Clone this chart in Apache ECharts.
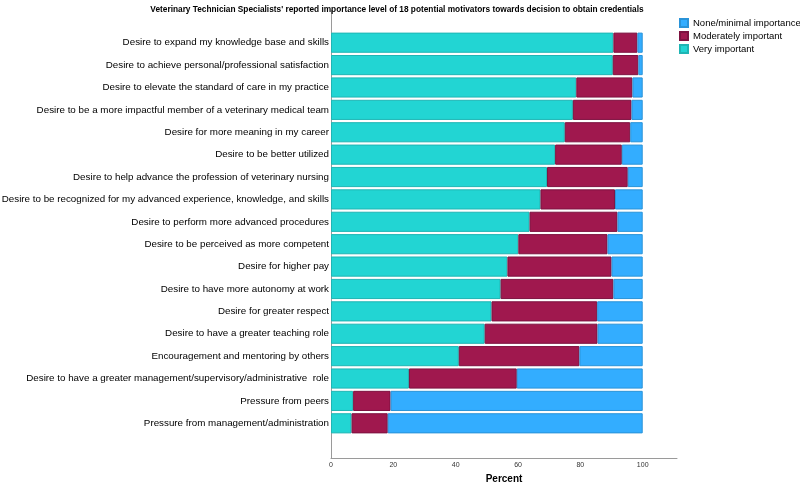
<!DOCTYPE html>
<html>
<head>
<meta charset="utf-8">
<title>VTS motivators</title>
<script src="https://cdn.jsdelivr.net/npm/echarts@6/dist/echarts.min.js"></script>
<style>
  html, body { margin: 0; padding: 0; background: #fff; }
  #main { width: 800px; height: 484px; }
</style>
</head>
<body>
<div id="main"></div>
<script>
// motivators, top to bottom
var categories = [
  "Desire to expand my knowledge base and skills",
  "Desire to achieve personal/professional satisfaction",
  "Desire to elevate the standard of care in my practice",
  "Desire to be a more impactful member of a veterinary medical team",
  "Desire for more meaning in my career",
  "Desire to be better utilized",
  "Desire to help advance the profession of veterinary nursing",
  "Desire to be recognized for my advanced experience, knowledge, and skills",
  "Desire to perform more advanced procedures",
  "Desire to be perceived as more competent",
  "Desire for higher pay",
  "Desire to have more autonomy at work",
  "Desire for greater respect",
  "Desire to have a greater teaching role",
  "Encouragement and mentoring by others",
  "Desire to have a greater management/supervisory/administrative  role",
  "Pressure from peers",
  "Pressure from management/administration"
];

// percent of respondents
var veryImportant = [90.6, 90.4, 78.7, 77.6, 75.0, 71.9, 69.3, 67.2, 63.7, 60.1, 56.6, 54.4, 51.5, 49.3, 41.0, 25.0, 7.1, 6.6];
var moderatelyImportant = [7.7, 8.2, 18.0, 18.8, 21.0, 21.4, 25.9, 23.9, 28.2, 28.6, 33.4, 36.2, 33.9, 36.2, 38.7, 34.6, 12.0, 11.6];
var noneMinimal = [1.7, 1.4, 3.3, 3.6, 4.0, 6.7, 4.8, 8.9, 8.1, 11.3, 10.0, 9.4, 14.6, 14.5, 20.3, 40.4, 80.9, 81.8];

var xTicks = [0, 20, 40, 60, 80, 100];

var chart = echarts.init(document.getElementById("main"));

var font = "Liberation Sans, Arial, sans-serif";
var axisGray = "#9a9a9a";

function barSeries(name, data, color, border) {
  return {
    name: name,
    type: "bar",
    stack: "total",
    xAxisIndex: 1,
    yAxisIndex: 1,
    barCategoryGap: "10%",
    itemStyle: { color: color, borderColor: border, borderWidth: 1 },
    data: data
  };
}

var option = {
  backgroundColor: "#fff",
  animation: false,
  title: {
    text: "Veterinary Technician Specialists' reported importance level of 18 potential motivators towards decision to obtain credentials",
    left: 392,
    top: 1,
    textAlign: "center",
    textStyle: { fontFamily: font, fontSize: 8.3, fontWeight: "bold", color: "#000" }
  },
  legend: {
    orient: "vertical",
    left: 679,
    top: 18,
    padding: 0,
    itemWidth: 8,
    itemHeight: 8,
    itemGap: 3,
    icon: "rect",
    data: ["None/minimal importance", "Moderately important", "Very important"],
    textStyle: { fontFamily: font, fontSize: 9.5, color: "#000" }
  },
  // grid 0 = frame with axis lines, grid 1 = the bars
  grid: [
    { left: 331, width: 346, top: 10, bottom: 26, outerBoundsMode: "none" },
    { left: 331, width: 346, top: 31.5, bottom: 49.5, outerBoundsMode: "none" }
  ],
  xAxis: [
    {
      gridIndex: 0,
      type: "value",
      min: 0,
      max: 111,
      interval: 20,
      name: "Percent",
      nameLocation: "middle",
      nameGap: 15,
      nameTextStyle: { fontFamily: font, fontSize: 10, fontWeight: "bold", color: "#000" },
      axisLine: { show: true, lineStyle: { color: axisGray, width: 1 } },
      axisTick: { show: false },
      splitLine: { show: false },
      axisLabel: {
        showMaxLabel: false,
        margin: 4,
        fontFamily: font,
        fontSize: 7,
        color: "#333",
        formatter: function (v) { return xTicks.indexOf(v) >= 0 ? String(v) : ""; }
      }
    },
    {
      gridIndex: 1,
      type: "value",
      min: 0,
      max: 111,
      show: false,
      splitLine: { show: false }
    }
  ],
  yAxis: [
    {
      gridIndex: 0,
      type: "value",
      axisLine: { show: true, lineStyle: { color: axisGray, width: 1 } },
      axisTick: { show: false },
      axisLabel: { show: false },
      splitLine: { show: false }
    },
    {
      gridIndex: 1,
      type: "category",
      inverse: true,
      data: categories,
      axisLine: { show: false },
      axisTick: { show: false },
      axisLabel: { margin: 2, fontFamily: font, fontSize: 9.8, color: "#000" }
    }
  ],
  series: [
    barSeries("Very important", veryImportant, "#22d5d3", "#1fb5b4"),
    barSeries("Moderately important", moderatelyImportant, "#a0184e", "#7d1240"),
    barSeries("None/minimal importance", noneMinimal, "#33adff", "#2a93d8")
  ]
};

chart.setOption(option);
</script>
</body>
</html>
